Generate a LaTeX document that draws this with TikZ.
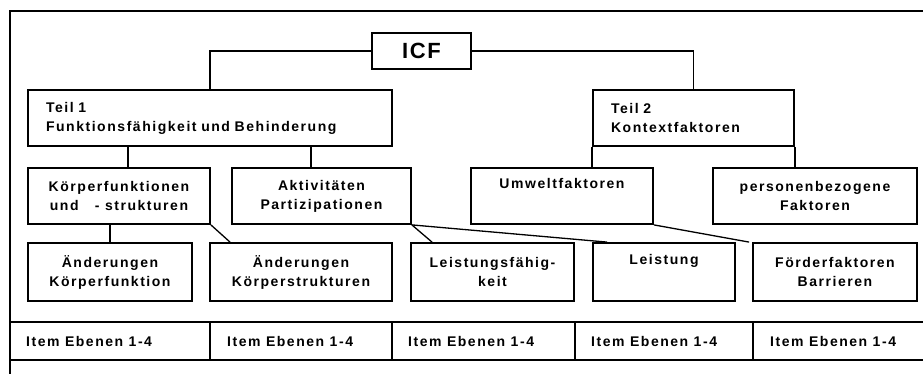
\documentclass[tikz,border=0pt]{standalone}
\usepackage{fontspec}
\setmainfont{Liberation Sans}[LetterSpace=11]
\newfontfamily\icffont{Liberation Sans}[LetterSpace=7]
\begin{document}
\begin{tikzpicture}[x=1pt,y=-1pt,
  lw/.style={line width=1.8pt},
  box/.style={draw, lw, inner sep=0pt, align=center,
    font=\fontsize{14}{19}\selectfont\bfseries},
  rowa/.style={box, minimum height=56pt},
  rowb/.style={box, minimum height=58pt},
  teil/.style={box, minimum height=56pt, align=left, inner xsep=18pt},
  item/.style={anchor=west, inner sep=0pt, font=\fontsize{14}{19}\selectfont\bfseries},
  diag/.style={line width=1.3pt}]
\useasboundingbox (0,0) rectangle (923,374);
\clip (0,0) rectangle (923,374);
% frame and table
\draw[lw] (10,390) -- (10,11) -- (940,11);
\draw[lw] (10,322) -- (940,322);
\draw[lw] (10,360) -- (940,360);
\foreach \xx in {210,392,575,753} \draw[lw] (\xx,322) -- (\xx,360);
% nodes
\node[box, minimum width=99pt, minimum height=36pt, font=\fontsize{22}{24}\selectfont\bfseries\icffont] (icf) at (421.5,51) {ICF};
\node[teil, text width=328pt] (t1) at (210,118) {Teil 1\\Funktionsfähigkeit und Behinderung};
\node[teil, text width=165pt] (t2) at (693.5,118) {Teil 2\\Kontextfaktoren};
\node[rowa, minimum width=182pt] (kf) at (119,196) {Körperfunktionen\\und\ \ \ - strukturen};
\node[rowa, minimum width=179pt] (akt) at (321.5,196) {Aktivitäten\\Partizipationen};
\node[rowa, minimum width=182pt] (umw) at (562,196) {Umweltfaktoren\\\strut};
\node[rowa, minimum width=204pt] (pers) at (815,196) {personenbezogene\\Faktoren};
\node[rowb, minimum width=164pt] (ak) at (110,272) {Änderungen\\Körperfunktion};
\node[rowb, minimum width=182pt] (ks) at (301,272) {Änderungen\\Körperstrukturen};
\node[rowb, minimum width=163pt] (lf) at (492.5,272) {Leistungsfähig-\\keit};
\node[rowb, minimum width=142pt] (le) at (664,272) {Leistung\\\strut};
\node[rowb, minimum width=164pt] (ff) at (835,272) {Förderfaktoren\\Barrieren};
\node[item] (i1) at (26,341) {Item Ebenen 1-4};
\node[item] (i2) at (227,341) {Item Ebenen 1-4};
\node[item] (i3) at (408,341) {Item Ebenen 1-4};
\node[item] (i4) at (591,341) {Item Ebenen 1-4};
\node[item] (i5) at (770,341) {Item Ebenen 1-4};
% connectors
\coordinate (c1) at (210,0);
\coordinate (c2) at (128,0);
\coordinate (c3) at (311,0);
\coordinate (d1) at (230,0);
\coordinate (d2) at (432,0);
\coordinate (d3) at (607,0);
\draw[lw] (icf.west) -| (t1.north -| c1);
\draw[lw] (icf.east) -| (t2.north);
\draw[lw] (t1.south -| c2) -- (kf.north -| c2);
\draw[lw] (t1.south -| c3) -- (akt.north -| c3);
\draw[lw] (t2.south west) -- (umw.north -| t2.south west);
\draw[lw] (t2.south east) -- (pers.north -| t2.south east);
\draw[lw] (ak.north) -- (kf.south -| ak.north);
\draw[diag] (kf.south east) -- (ks.north -| d1);
\draw[diag] (akt.south east) -- (lf.north -| d2);
\draw[diag] (akt.south east) -- (le.north -| d3);
\draw[diag] (umw.south east) -- ([xshift=-3pt]ff.north west);
\end{tikzpicture}
\end{document}
